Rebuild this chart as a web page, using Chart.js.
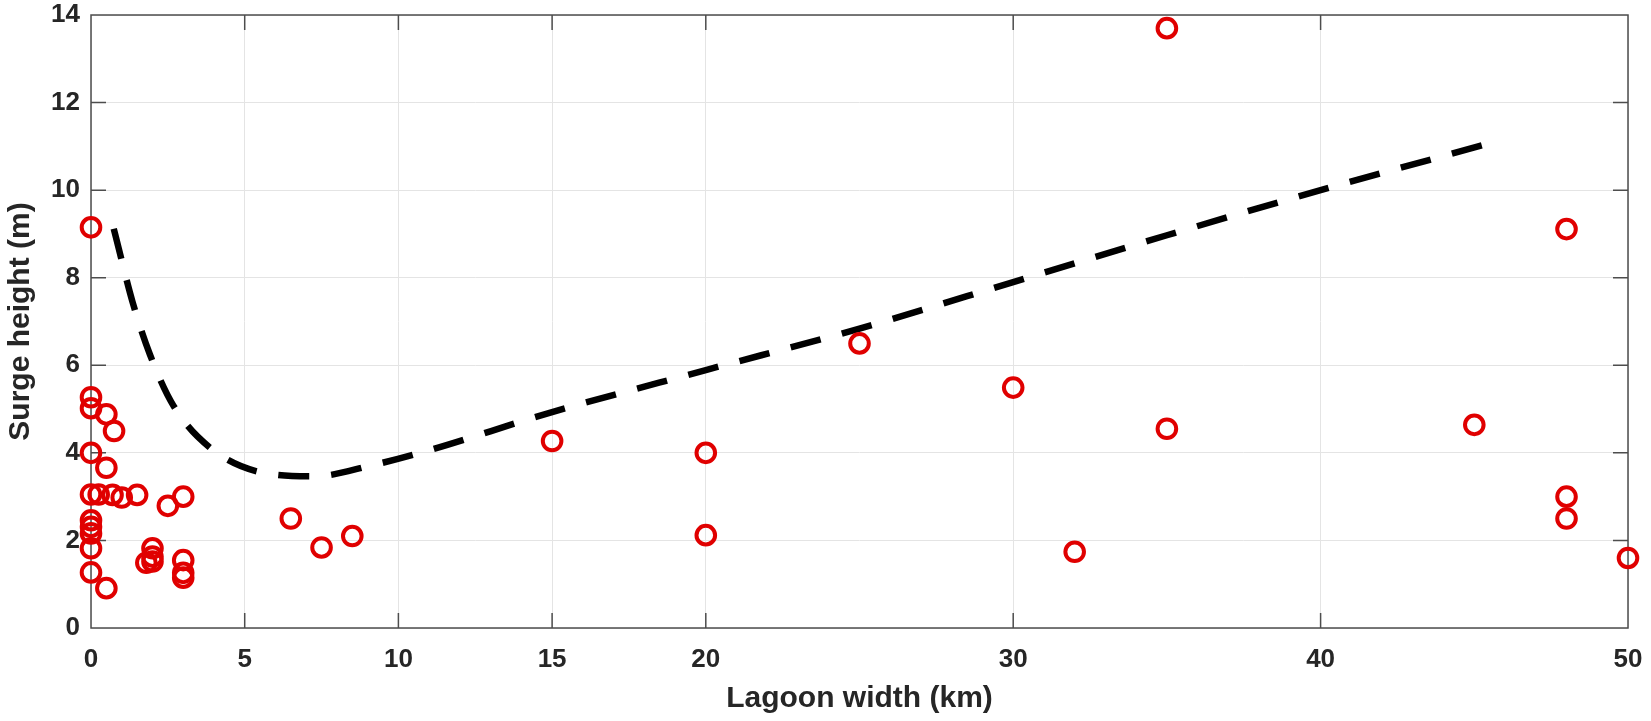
<!DOCTYPE html>
<html>
<head>
<meta charset="utf-8">
<title>Surge height vs lagoon width</title>
<script src="https://cdn.jsdelivr.net/npm/chart.js@4.4.1/dist/chart.umd.min.js"></script>
<style>
  html, body { margin: 0; padding: 0; background: #fff; }
  #wrap { width: 1651px; height: 721px; }
</style>
</head>
<body>
<div id="wrap"><canvas id="surgeChart" width="1651" height="721"></canvas></div>
<script>
// observed surges: lagoon width (km) / surge height (m)
const obsWidth = [0, 0, 0.5, 0.75, 0, 0.5, 0, 0.25, 0.7, 1.0, 1.5, 2.5, 3.0,
                  0, 0, 0, 0, 0, 0.5, 1.8, 2.0, 2.0, 2.0, 3.0, 3.0, 3.0,
                  0, 6.5, 7.5, 8.5, 15, 20, 20, 25, 30, 32, 35, 35, 45, 48, 48, 48, 50];
const obsSurge = [5.27, 5.02, 4.88, 4.5, 4.0, 3.66, 3.05, 3.05, 3.04, 2.98, 3.04, 2.79, 3.0,
                  2.46, 2.31, 2.16, 1.82, 1.27, 0.91, 1.49, 1.82, 1.63, 1.52, 1.55, 1.26, 1.15,
                  9.15, 2.5, 1.84, 2.1, 4.27, 4.0, 2.12, 6.5, 5.49, 1.74, 13.7, 4.55, 4.64, 9.11, 3.0, 2.5, 1.6];

// dashed fit curve, read at the dash midpoints
const fitWidth = [0.74, 0.89, 1.35, 1.92, 2.68, 3.87, 5.5, 7.29, 9.1, 10.8,
                  15, 20, 25, 30, 35, 40, 45.5];
const fitSurge = [9.12, 8.7, 7.45, 6.24, 5.08, 4.12, 3.56, 3.465, 3.71, 4.02,
                  4.93, 5.89, 6.84, 7.9, 8.97, 10.0, 11.07];

const xTicks = [0, 5, 10, 15, 20, 30, 40, 50];
const yTicks = [0, 2, 4, 6, 8, 10, 12, 14];

const TXT = '#262626';
const FONT = "'Liberation Sans', Arial, sans-serif";

// matlab style box with inward ticks, under the markers
const boxPlugin = {
  id: 'matlabBox',
  beforeDatasetsDraw(chart) {
    const { ctx, chartArea: a, scales: { x, y } } = chart;
    const len = 15;
    ctx.save();
    ctx.strokeStyle = '#4d4d4d';
    ctx.lineWidth = 1.5;
    ctx.beginPath();
    ctx.rect(a.left, a.top, a.right - a.left, a.bottom - a.top);
    xTicks.forEach(v => {
      const px = x.getPixelForValue(v);
      ctx.moveTo(px, a.bottom); ctx.lineTo(px, a.bottom - len);
      ctx.moveTo(px, a.top); ctx.lineTo(px, a.top + len);
    });
    yTicks.forEach(v => {
      const py = y.getPixelForValue(v);
      ctx.moveTo(a.left, py); ctx.lineTo(a.left + len, py);
      ctx.moveTo(a.right, py); ctx.lineTo(a.right - len, py);
    });
    ctx.stroke();
    ctx.restore();
  }
};

new Chart(document.getElementById('surgeChart'), {
  type: 'scatter',
  data: {
    datasets: [
      {
        label: 'observed',
        data: obsWidth.map((w, i) => ({ x: w, y: obsSurge[i] })),
        pointStyle: 'circle',
        pointRadius: 9.3,
        pointBorderWidth: 4,
        pointBorderColor: '#e00000',
        pointBackgroundColor: 'rgba(0,0,0,0)',
        clip: false
      },
      {
        label: 'fit',
        data: fitWidth.map((w, i) => ({ x: w, y: fitSurge[i] })),
        showLine: true,
        borderColor: '#000',
        borderWidth: 6.5,
        borderDash: [31, 22],
        borderCapStyle: 'butt',
        cubicInterpolationMode: 'monotone',
        pointRadius: 0,
        fill: false
      }
    ]
  },
  options: {
    responsive: false,
    devicePixelRatio: 1,
    animation: false,
    layout: { padding: { left: 0, right: 23, top: 15, bottom: 0 } },
    plugins: {
      legend: { display: false },
      tooltip: { enabled: false }
    },
    scales: {
      x: {
        type: 'linear',
        min: 0,
        max: 50,
        afterBuildTicks: s => { s.ticks = xTicks.map(v => ({ value: v })); },
        afterFit: s => { s.height = 93; s.paddingLeft = 0; s.paddingRight = 0; },
        grid: { color: '#e4e4e4', lineWidth: 1, drawTicks: false },
        border: { display: false },
        ticks: { color: TXT, padding: 16, font: { family: FONT, size: 26, weight: 'bold' } },
        title: {
          display: true,
          text: 'Lagoon width (km)',
          color: TXT,
          font: { family: FONT, size: 30, weight: 'bold', lineHeight: 1.2 },
          padding: { top: 0, bottom: 4 }
        }
      },
      y: {
        type: 'linear',
        min: 0,
        max: 14,
        afterBuildTicks: s => { s.ticks = yTicks.map(v => ({ value: v })); },
        afterFit: s => { s.width = 91; s.paddingTop = 0; s.paddingBottom = 0; },
        grid: { color: '#e4e4e4', lineWidth: 1, drawTicks: false },
        border: { display: false },
        ticks: { color: TXT, padding: 11, font: { family: FONT, size: 26, weight: 'bold' } },
        title: {
          display: true,
          text: 'Surge height (m)',
          color: TXT,
          font: { family: FONT, size: 30, weight: 'bold', lineHeight: 1.2 },
          padding: { top: 3, bottom: 0 }
        }
      }
    }
  },
  plugins: [boxPlugin]
});
</script>
</body>
</html>
